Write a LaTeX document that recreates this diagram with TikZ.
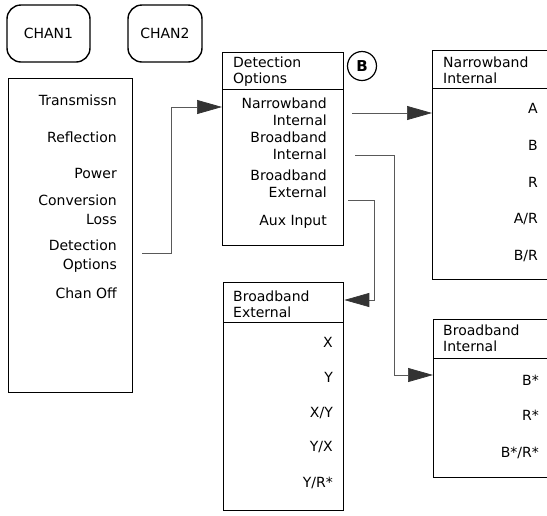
\documentclass[tikz,border=0pt]{standalone}
\usepackage{fontspec}
\setmainfont{DejaVu Sans}
\usetikzlibrary{arrows.meta}
\begin{document}
\begin{tikzpicture}[x=1pt,y=-1pt,
  box/.style={draw, line width=1.3pt, inner sep=0pt, anchor=north west},
  chan/.style={draw, line width=1.4pt, rounded corners=14pt, inner sep=0pt, minimum height=57pt, font=\fontsize{14}{16}\selectfont},
  item/.style={anchor=north east, inner sep=0pt, align=right, font=\fontsize{14}{18.5}\selectfont},
  itemb/.style={item, font=\fontsize{14}{16.5}\selectfont},
  ttl/.style={anchor=north west, inner sep=0pt, align=left, font=\fontsize{14}{16}\selectfont},
  hdr/.style={line width=1pt},
  conn/.style={draw=black!65, line width=0.7pt},
  tip/.style={-{Triangle[length=25pt,width=14pt,color=black!80]}}
]
\useasboundingbox (0,0) rectangle (547,515);

% channel keys
\node[chan, minimum width=83pt] (chan1) at (48.5,33.5) {CHAN1};
\node[chan, minimum width=74pt] (chan2) at (165,33.5) {CHAN2};

% left menu
\node[box, minimum width=124pt, minimum height=314pt] (menu) at (8,78) {};
\node[item] (m1) at (117,95) {Transmissn};
\node[item] (m2) at (117,132) {Reflection};
\node[item] (m3) at (117,168) {Power};
\node[item] (m4) at (117,195) {Conversion\\Loss};
\node[item] (m5) at (117,240) {Detection\\Options};
\node[item] (m6) at (117,288) {Chan Off};

% detection options
\node[box, minimum width=121pt, minimum height=193pt] (det) at (222,52) {};
\draw[hdr] (det.west |- 0,89) -- (det.east |- 0,89);
\node[ttl] (dett) at (233,57) {Detection\\Options};
\node[itemb] (d1) at (327,98) {Narrowband\\Internal};
\node[itemb] (d2) at (327,132) {Broadband\\Internal};
\node[itemb] (d3) at (327,170) {Broadband\\External};
\node[itemb] (d4) at (327,215) {Aux Input};
\node[circle, draw, line width=1.2pt, minimum size=29pt, inner sep=0pt, font=\bfseries\fontsize{15}{17}\selectfont] (bmark) at (362,66) {B};

% narrowband internal
\node[box, minimum width=122pt, minimum height=229pt] (nb) at (432,50) {};
\draw[hdr] (nb.west |- 0,88) -- (nb.east |- 0,88);
\node[ttl] (nbt) at (443,57) {Narrowband\\Internal};
\node[item] (n1) at (538,103) {A};
\node[item] (n2) at (538,140) {B};
\node[item] (n3) at (538,177) {R};
\node[item] (n4) at (538,213) {A/R};
\node[item] (n5) at (538,250) {B/R};

% broadband internal
\node[box, minimum width=122pt, minimum height=158pt] (bi) at (433,319) {};
\draw[hdr] (bi.west |- 0,358) -- (bi.east |- 0,358);
\node[ttl] (bit) at (443,325) {Broadband\\Internal};
\node[item] (i1) at (539,375) {B*};
\node[item] (i2) at (539,410) {R*};
\node[item] (i3) at (539,447) {B*/R*};

% broadband external
\node[box, minimum width=120pt, minimum height=228pt] (be) at (223,282) {};
\draw[hdr] (be.west |- 0,322) -- (be.east |- 0,322);
\node[ttl] (bet) at (233,291) {Broadband\\External};
\node[item] (e1) at (333,337) {X};
\node[item] (e2) at (333,372) {Y};
\node[item] (e3) at (333,407) {X/Y};
\node[item] (e4) at (333,441) {Y/X};
\node[item] (e5) at (333,477) {Y/R*};

% connector end points
\coordinate (s1) at (142,253);
\coordinate (t1) at (det.west |- 0,107);
\coordinate (s2) at (352,113);
\coordinate (t2) at (nb.west |- 0,113);
\coordinate (s3) at (355,155);
\coordinate (t3) at (bi.west |- 0,375);
\coordinate (s4) at (348,200);
\coordinate (t4) at (be.east |- 0,300);

\draw[conn, tip] (s1) -- (171,253) |- (t1);
\draw[conn, tip] (s2) -- (t2);
\draw[conn, tip] (s3) -- (394,155) |- (t3);
\draw[conn, tip] (s4) -- (374,200) |- (t4);
\end{tikzpicture}
\end{document}
